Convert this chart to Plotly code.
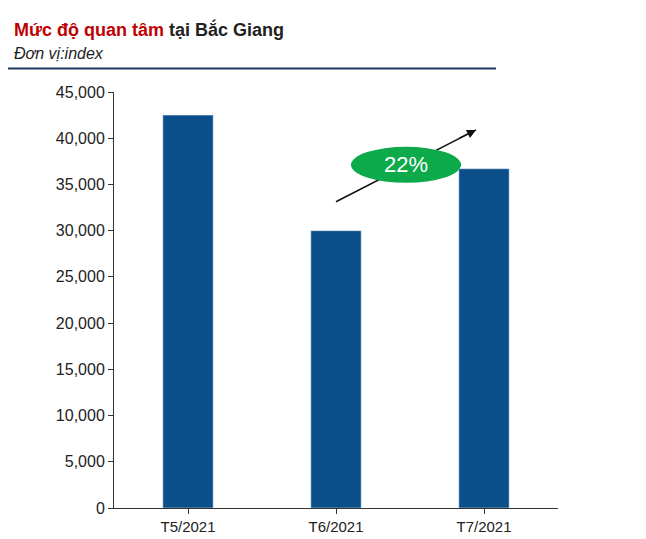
import plotly.graph_objects as go

categories = ["T5/2021", "T6/2021", "T7/2021"]
values = [42500, 30000, 36700]
tick_vals = list(range(0, 45001, 5000))
tick_text = [f"{v:,}" for v in tick_vals]
growth_label = "22%"

L, R, T, B = 106, 96, 84, 30
PW, PH = 646 - L - R, 539 - T - B
def px(x): return (x - L) / PW
def py(y): return 1 + (T - y) / PH

fig = go.Figure(go.Bar(x=categories, y=values, marker_color="#0B4F8A", width=0.34))

fig.update_layout(
    width=646, height=539, margin=dict(l=L, r=R, t=T, b=B),
    plot_bgcolor="white", paper_bgcolor="white", showlegend=False,
    font=dict(family="Liberation Sans, Arial", size=15, color="#222"),
    xaxis=dict(showline=True, linecolor="#333", ticks="outside", ticklen=5, tickcolor="#333",
               range=[-0.5, 2.5], showgrid=False, tickfont=dict(size=15)),
    yaxis=dict(range=[0, 45000], tickvals=tick_vals, ticktext=tick_text, showgrid=False,
               showline=True, linecolor="#333", ticks="outside", ticklen=5, tickcolor="#333",
               tickfont=dict(size=16)),
)

fig.add_shape(type="line", xref="x", yref="y", x0=1.0, y0=33130, x1=1.946, y1=40900,
              line=dict(color="#111", width=1.5), layer="above")
fig.add_shape(type="circle", xref="x", yref="y", x0=1.473-0.372, x1=1.473+0.372,
              y0=37120-1950, y1=37120+1950, fillcolor="#0DAA4B", line=dict(width=0), layer="above")
fig.add_annotation(x=1.946, y=40900, xref="x", yref="y", ax=-18, ay=9, showarrow=True,
                   arrowhead=2, arrowsize=1.2, arrowwidth=1.5, arrowcolor="#111", text="")
fig.add_annotation(x=1.473, y=37120, xref="x", yref="y", text=growth_label, showarrow=False,
                   font=dict(size=22, color="white"))

fig.add_annotation(xref="paper", yref="paper", x=px(4), y=py(20), xanchor="left", yanchor="middle",
                   showarrow=False,
                   text="<b><span style='color:#C00000'>Mức độ quan tâm</span> <span style='color:#222'>tại Bắc Giang</span></b>",
                   font=dict(size=18))
fig.add_annotation(xref="paper", yref="paper", x=px(4), y=py(45), xanchor="left", yanchor="middle",
                   showarrow=False, text="<i>Đơn vị:index</i>", font=dict(size=16, color="#222"))
fig.add_shape(type="line", xref="paper", yref="paper", x0=px(0), x1=px(488),
              y0=py(60), y1=py(60), line=dict(color="#1F3864", width=2))

fig.write_html("out.html")
